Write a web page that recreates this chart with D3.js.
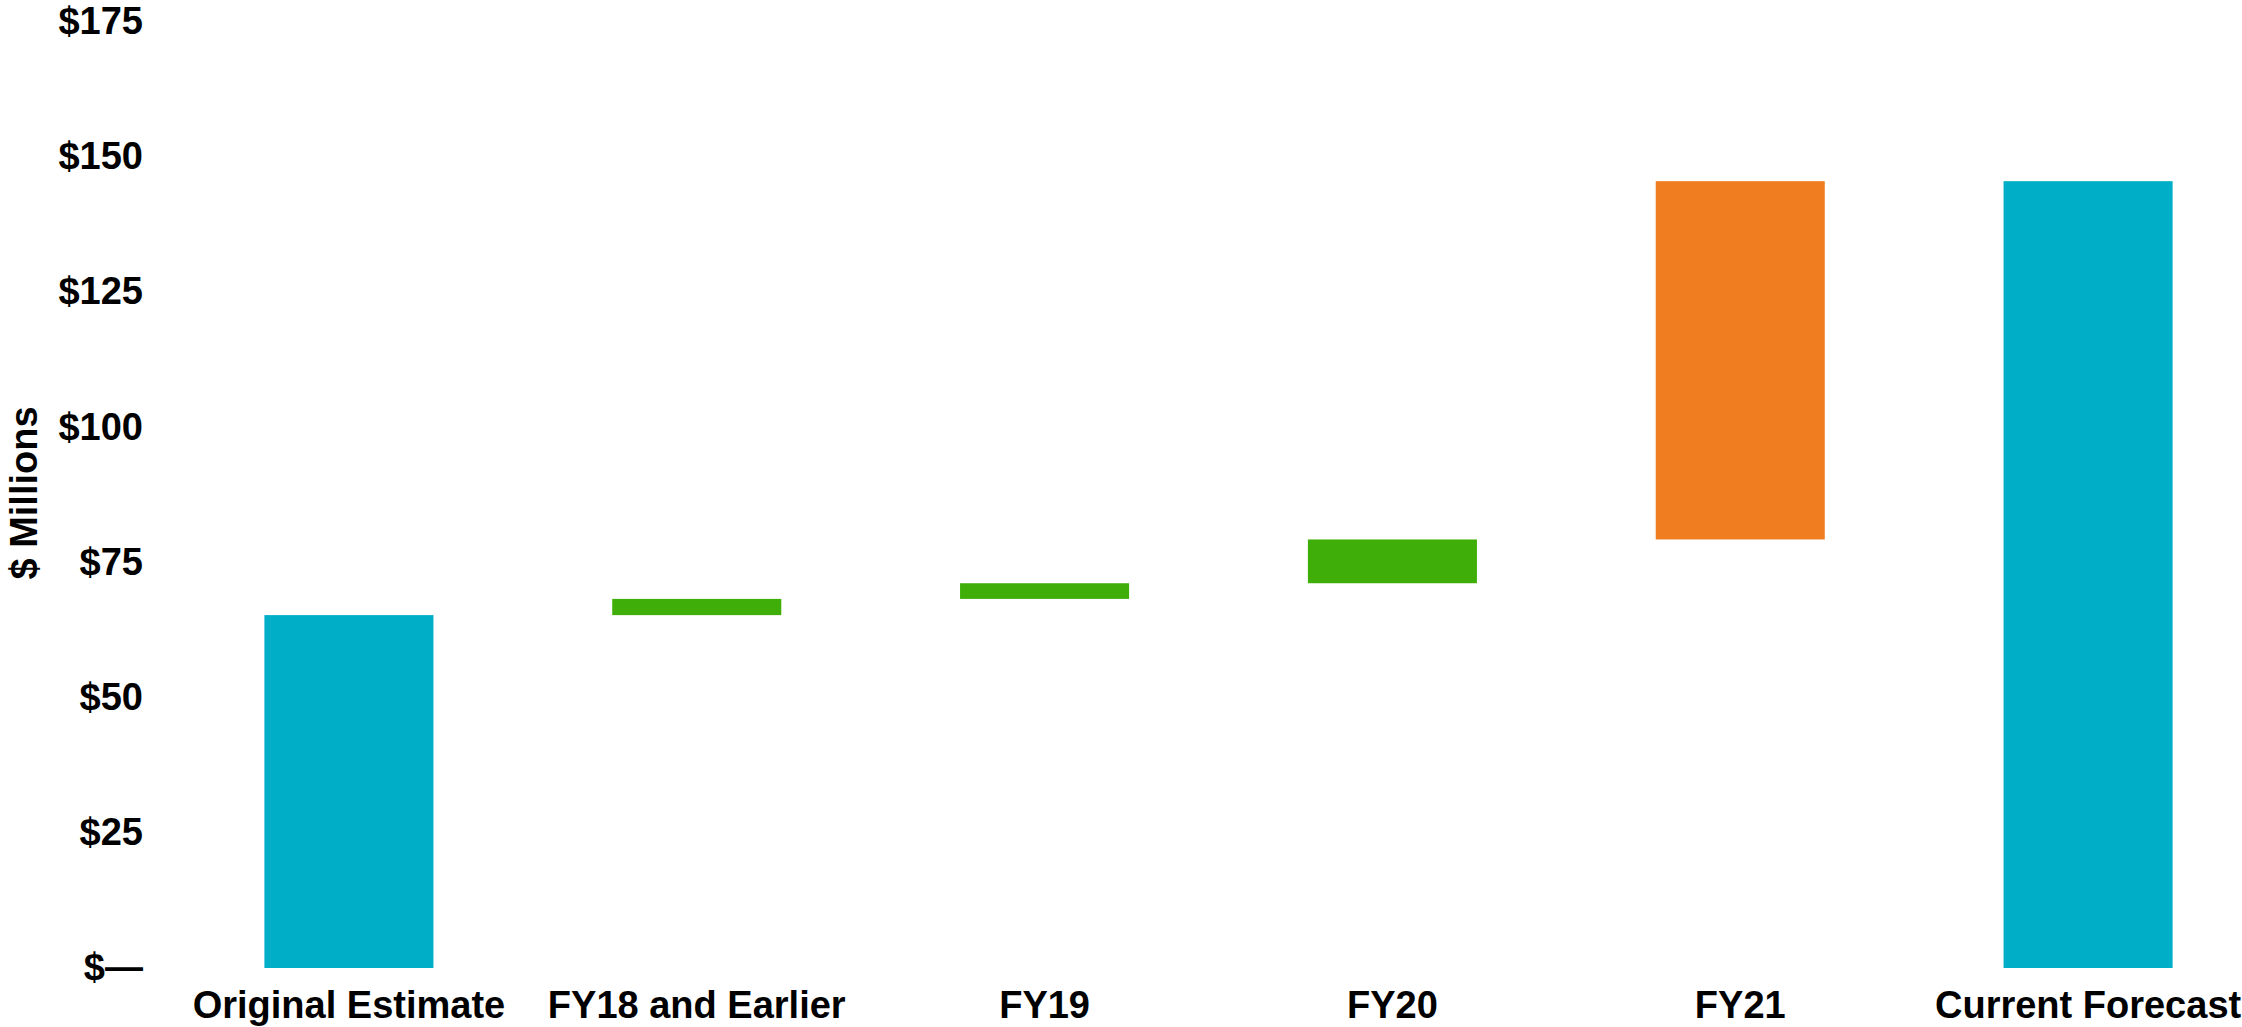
<!DOCTYPE html>
<html>
<head>
<meta charset="utf-8">
<script src="https://cdn.jsdelivr.net/npm/d3@7"></script>
<style>
  html, body { margin: 0; padding: 0; background: #fff; }
  svg { display: block; }
  text { font-family: "Liberation Sans", Arial, sans-serif; font-weight: bold; fill: #000; }
</style>
</head>
<body>
<svg id="chart" width="2242" height="1027"></svg>
<script>
// Data
const categories = ["Original Estimate", "FY18 and Earlier", "FY19", "FY20", "FY21", "Current Forecast"];
const kinds = ["total", "increase", "increase", "increase", "increase", "total"];
const values = [65.3, 3.0, 2.9, 8.1, 66.3, 145.6];
const yTicks = [0, 25, 50, 75, 100, 125, 150, 175];
const yTickLabels = ["$—", "$25", "$50", "$75", "$100", "$125", "$150", "$175"];
const yTitle = "$ Millions";
const colors = { total: "#00AEC7", increase: "#3FAE08", decrease: "#F07D20" };
const barColorKinds = ["total", "increase", "increase", "increase", "decrease", "total"];

// Build waterfall segments
let running = 0;
const segs = categories.map((c, i) => {
  let y0, y1;
  if (kinds[i] === "total") { y0 = 0; y1 = values[i]; running = values[i]; }
  else { y0 = running; y1 = running + values[i]; running = y1; }
  return { cat: c, y0, y1, kind: barColorKinds[i] };
});

const svg = d3.select("#chart");
const x = d3.scaleBand().domain(categories).range([175, 2262]).paddingInner(0.514).paddingOuter(0.257);
const y = d3.scaleLinear().domain([0, 175]).range([968, 22.3]);

// Bars
svg.append("g").selectAll("rect").data(segs).join("rect")
  .attr("x", d => x(d.cat))
  .attr("width", x.bandwidth())
  .attr("y", d => y(Math.max(d.y0, d.y1)))
  .attr("height", d => Math.abs(y(d.y0) - y(d.y1)))
  .attr("fill", d => colors[d.kind]);

// Y axis (labels only)
const yAxis = d3.axisLeft(y).tickValues(yTicks).tickSize(0).tickPadding(0)
  .tickFormat((d, i) => yTickLabels[i]);
const gy = svg.append("g").attr("transform", "translate(143,0)").call(yAxis);
gy.select(".domain").remove();
gy.selectAll("text").attr("font-size", 38).attr("font-family", "Liberation Sans, Arial, sans-serif")
  .attr("font-weight", "bold").attr("fill", "#000").attr("dy", "0.3em");

// X axis (labels only)
const xAxis = d3.axisBottom(x).tickSize(0).tickPadding(0);
const gx = svg.append("g").attr("transform", "translate(0,990)").call(xAxis);
gx.select(".domain").remove();
gx.selectAll("text").attr("font-size", 38).attr("font-family", "Liberation Sans, Arial, sans-serif")
  .attr("font-weight", "bold").attr("fill", "#000").attr("dy", "0.74em");

// Y title
svg.append("text")
  .attr("transform", "translate(37,493) rotate(-90)")
  .attr("text-anchor", "middle")
  .attr("font-size", 38)
  .text(yTitle);
</script>
</body>
</html>
